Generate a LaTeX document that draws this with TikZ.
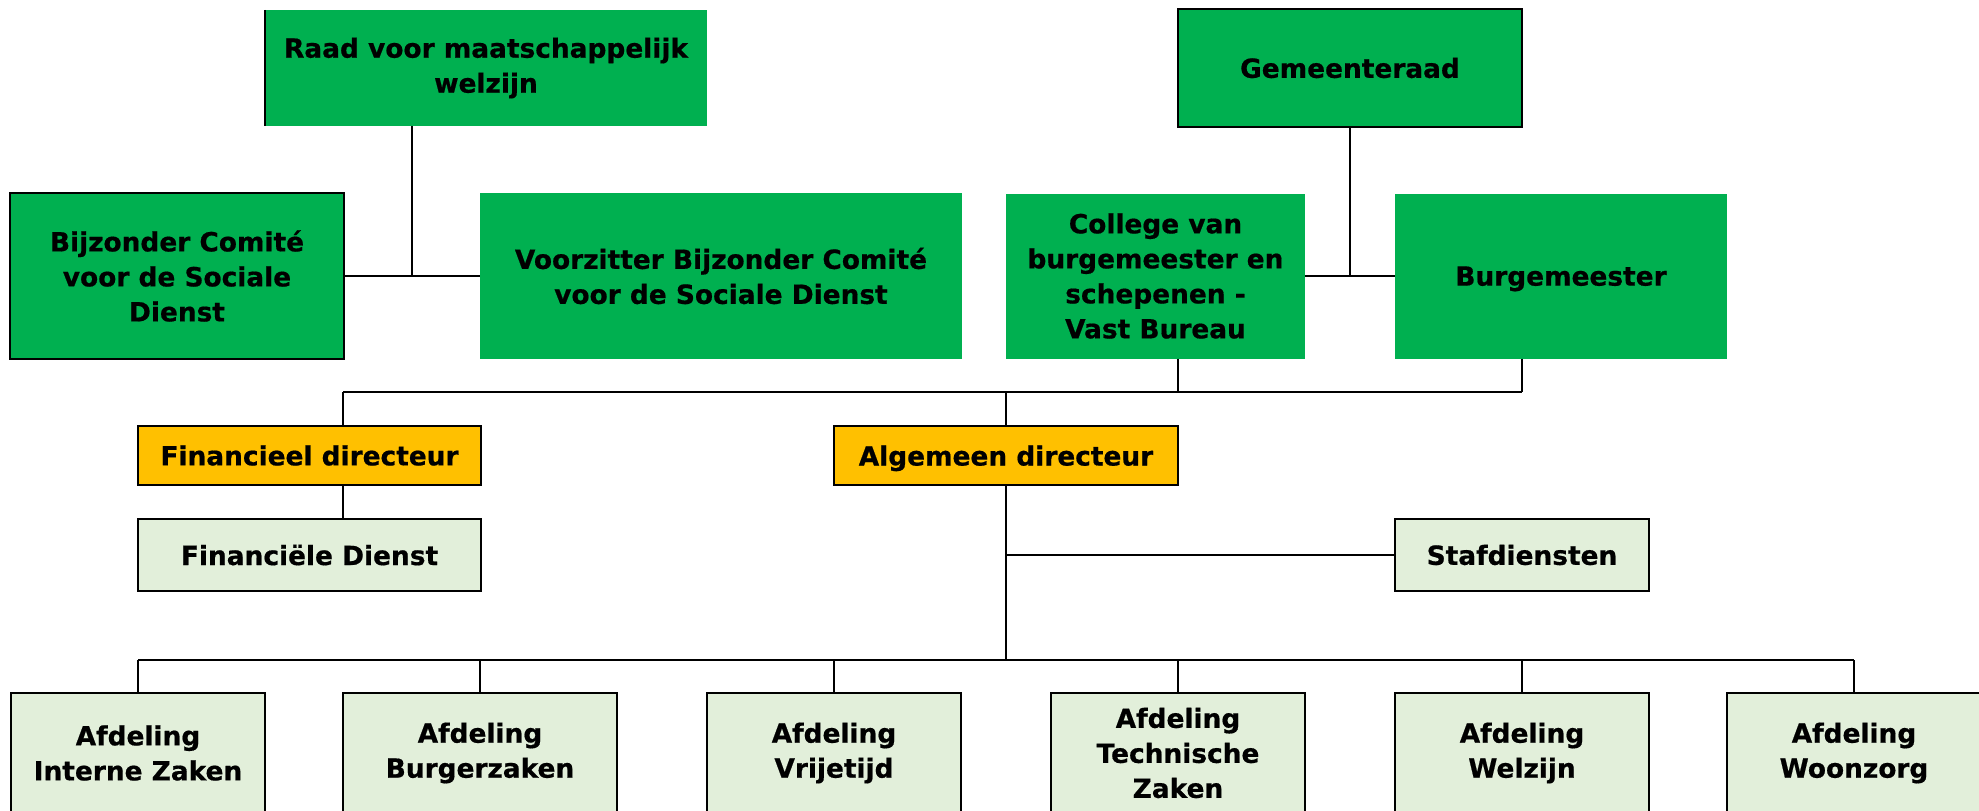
\documentclass[tikz,border=0pt]{standalone}
\usepackage{fontspec}
\setmainfont{DejaVu Sans}[BoldFeatures={FakeBold=0.6}]
\definecolor{dgreen}{HTML}{00B050}
\definecolor{orng}{HTML}{FFC000}
\definecolor{lgreen}{HTML}{E2EFDA}
\tikzset{
  box/.style={rectangle, inner sep=0pt, align=center, font=\bfseries\fontsize{26.4}{35}\selectfont},
  gbox/.style={box, fill=dgreen},
  gbbox/.style={box, fill=dgreen, draw=black, line width=2.4pt},
  obox/.style={box, fill=orng, draw=black, line width=2.4pt},
  lbox/.style={box, fill=lgreen, draw=black, line width=2.2pt},
  con/.style={line width=2pt, black},
}
\begin{document}
\begin{tikzpicture}[x=1pt,y=-1pt]
\useasboundingbox (0,0) rectangle (1979,811);
\clip (0,0) rectangle (1979,811);
% top row
\node[gbox, minimum width=442pt, minimum height=116pt] (raad) at (486,68) {Raad voor maatschappelijk\\welzijn};
\draw[line width=2.5pt] (raad.north west) -- (raad.south west);
\node[gbbox, minimum width=344pt, minimum height=118pt] (gr) at (1350,68) {Gemeenteraad};
% second row
\node[gbbox, minimum width=334pt, minimum height=166pt] (bcsd) at (177,276) {Bijzonder Comité\\voor de Sociale\\Dienst};
\node[gbox, minimum width=482pt, minimum height=166pt] (vz) at (721,276) {Voorzitter Bijzonder Comité\\voor de Sociale Dienst};
\node[gbox, minimum width=299pt, minimum height=165pt] (coll) at (1155.5,276) {College van\\burgemeester en\\schepenen -\\Vast Bureau};
\node[gbox, minimum width=332pt, minimum height=165pt, text depth=0pt] (burg) at (1561,276) {Burgemeester};
% directors
\node[obox, minimum width=343pt, minimum height=59pt] (fd) at (309.5,455.5) {Financieel directeur};
\node[obox, minimum width=344pt, minimum height=59pt, text depth=0pt] (ad) at (1006,455.5) {Algemeen directeur};
\node[lbox, minimum width=343pt, minimum height=72pt] (fdi) at (309.5,555) {Financiële Dienst};
\node[lbox, minimum width=254pt, minimum height=72pt] (staf) at (1522,555) {Stafdiensten};
% departments
\node[lbox, minimum width=254pt, minimum height=120pt] (b1) at (138,753) {Afdeling\\Interne Zaken};
\node[lbox, minimum width=274pt, minimum height=120pt] (b2) at (480,753) {Afdeling\\Burgerzaken};
\node[lbox, minimum width=254pt, minimum height=120pt] (b3) at (834,753) {Afdeling\\Vrijetijd};
\node[lbox, minimum width=254pt, minimum height=120pt] (b4) at (1178,753) {Afdeling\\Technische\\Zaken};
\node[lbox, minimum width=254pt, minimum height=120pt] (b5) at (1522,753) {Afdeling\\Welzijn};
\node[lbox, minimum width=254pt, minimum height=120pt] (b6) at (1854,753) {Afdeling\\Woonzorg};
% connectors
\coordinate (j1) at (412,276);
\draw[con] (bcsd.east) -- (vz.west);
\draw[con] (j1 |- raad.south) -- (j1);
\draw[con] (coll.east) -- (burg.west);
\draw[con] (gr.south) -- (gr.south |- coll.east);
\coordinate (t0) at (343,392);
\coordinate (t1) at (1178,392);
\coordinate (t2) at (1521.5,392);
\draw[con] (t1 |- coll.south) -- (t1);
\draw[con] (t2 |- burg.south) -- (t2);
\draw[con] (t0) -- (t2);
\draw[con] (t0) -- (t0 |- fd.north);
\draw[con] (t0 |- fd.south) -- (t0 |- fdi.north);
\draw[con] (ad.north |- t0) -- (ad.north);
\coordinate (h) at (1006,660);
\draw[con] (ad.south) -- (h);
\draw[con] (ad.south |- staf.west) -- (staf.west);
\draw[con] (b1.north |- h) -- (b6.north |- h);
\foreach \b in {b1,b2,b3,b4,b5,b6} {\draw[con] (\b.north |- h) -- (\b.north);}
\end{tikzpicture}
\end{document}
